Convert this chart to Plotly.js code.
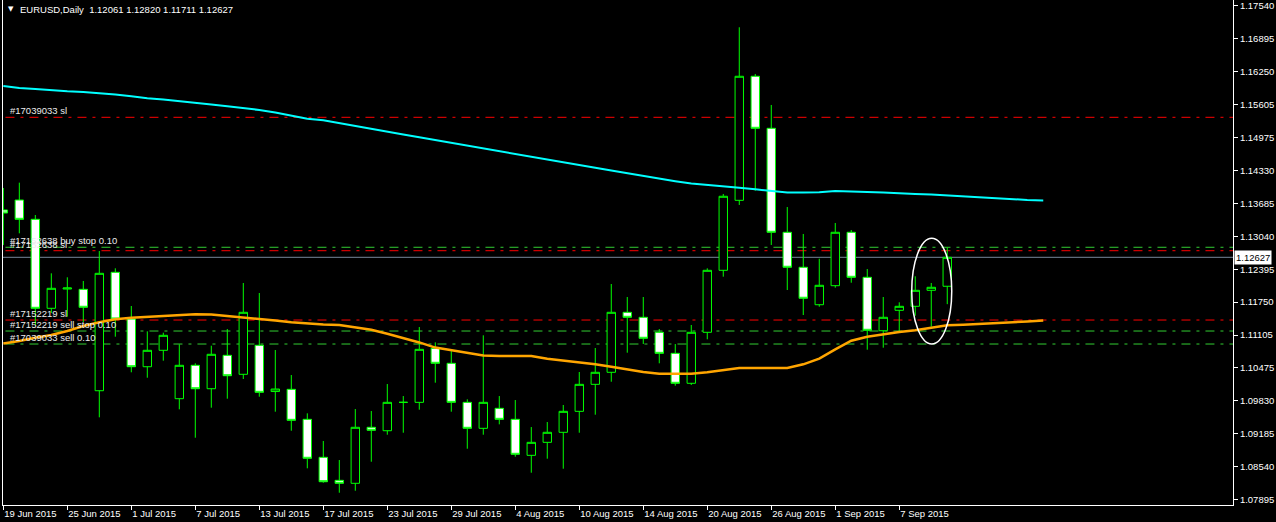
<!DOCTYPE html>
<html><head><meta charset="utf-8">
<script src="https://cdn.plot.ly/plotly-3.0.1.min.js"></script>
<style>html,body{margin:0;padding:0;background:#000;}#chart{width:1276px;height:522px;}</style>
</head><body><div id="chart"></div>
<script>
const symbol = "EURUSD,Daily";
const dates = ["19 Jun 2015","22 Jun 2015","23 Jun 2015","24 Jun 2015","25 Jun 2015","26 Jun 2015","29 Jun 2015","30 Jun 2015",
"1 Jul 2015","2 Jul 2015","3 Jul 2015","6 Jul 2015","7 Jul 2015","8 Jul 2015","9 Jul 2015","10 Jul 2015","13 Jul 2015","14 Jul 2015",
"15 Jul 2015","16 Jul 2015","17 Jul 2015","20 Jul 2015","21 Jul 2015","22 Jul 2015","23 Jul 2015","24 Jul 2015","27 Jul 2015","28 Jul 2015",
"29 Jul 2015","30 Jul 2015","31 Jul 2015","3 Aug 2015","4 Aug 2015","5 Aug 2015","6 Aug 2015","7 Aug 2015","10 Aug 2015","11 Aug 2015",
"12 Aug 2015","13 Aug 2015","14 Aug 2015","17 Aug 2015","18 Aug 2015","19 Aug 2015","20 Aug 2015","21 Aug 2015","24 Aug 2015","25 Aug 2015",
"26 Aug 2015","27 Aug 2015","28 Aug 2015","31 Aug 2015","1 Sep 2015","2 Sep 2015","3 Sep 2015","4 Sep 2015","7 Sep 2015","8 Sep 2015",
"9 Sep 2015","10 Sep 2015"];
const openP = [1.13552,1.13747,1.13370,1.11630,1.12007,1.12001,1.10019,1.12334,1.11421,1.10488,1.10809,1.09863,1.10516,1.10058,1.10711,1.10340,1.10907,1.10003,1.10046,1.09460,
1.08717,1.08267,1.08209,1.09304,1.09237,1.09792,1.09792,1.10848,1.10555,1.09792,1.09284,1.09675,1.09460,1.08756,1.09010,1.09206,1.09616,1.10144,1.10379,1.11552,
1.11454,1.11161,1.10750,1.10164,1.11161,1.12373,1.13741,1.16166,1.15149,1.13116,1.12432,1.11700,1.12072,1.13116,1.12236,1.11192,1.11591,1.11669,1.11982,1.12061];
const highP = [1.13982,1.14086,1.13454,1.12314,1.12236,1.12164,1.12750,1.12412,1.11675,1.11180,1.11153,1.10926,1.10555,1.10899,1.11225,1.12125,1.11929,1.10815,1.10326,1.09577,
1.09036,1.08664,1.09661,1.09622,1.10150,1.09915,1.11264,1.10965,1.10795,1.09851,1.11102,1.09915,1.09837,1.09309,1.09407,1.09740,1.10385,1.10854,1.12105,1.11851,
1.11851,1.11225,1.10932,1.11304,1.12412,1.13865,1.17124,1.16211,1.15605,1.13610,1.13083,1.12600,1.13298,1.13161,1.12398,1.11851,1.11747,1.12256,1.12125,1.12820];
const lowP = [1.12868,1.13096,1.11304,1.11538,1.11466,1.11362,1.09499,1.11075,1.10379,1.10273,1.10606,1.09655,1.09100,1.09687,1.09863,1.10248,1.09902,1.09609,1.09237,1.08502,
1.08220,1.08025,1.08064,1.08631,1.09159,1.09198,1.09648,1.10176,1.09609,1.08885,1.09159,1.09362,1.08729,1.08416,1.08690,1.08494,1.09198,1.09550,1.10195,1.10762,
1.10932,1.10555,1.10117,1.10131,1.11024,1.12248,1.13650,1.13929,1.12868,1.11988,1.11499,1.11661,1.12033,1.12130,1.10821,1.10860,1.11173,1.11485,1.11270,1.11711];
const closeP = [1.13493,1.13370,1.11630,1.12021,1.12027,1.11650,1.12314,1.11421,1.10488,1.10809,1.11102,1.10516,1.10058,1.10731,1.10312,1.11552,1.09988,1.10052,1.09440,1.08698,
1.08240,1.08209,1.09304,1.09245,1.09792,1.09792,1.10828,1.10555,1.09792,1.09284,1.09792,1.09460,1.08776,1.09010,1.09206,1.09616,1.10144,1.10379,1.11552,1.11454,
1.11044,1.10750,1.10164,1.11161,1.12373,1.13820,1.16166,1.15149,1.13116,1.12432,1.11826,1.12080,1.13116,1.12236,1.11200,1.11454,1.11669,1.11982,1.12041,1.12627];
// moving averages, drawn shifted 6 bars forward (66 points)
const maCyan = [1.15976,1.15937,1.15917,1.15888,1.15872,1.15859,1.15839,1.15810,1.15777,1.15736,1.15712,1.15683,1.15653,1.15614,1.15579,1.15546,1.15507,1.15458,1.15399,1.15337,
1.15305,1.15247,1.15192,1.15137,1.15083,1.15028,1.14973,1.14920,1.14866,1.14811,1.14756,1.14701,1.14647,1.14594,1.14539,1.14484,1.14432,1.14377,1.14322,1.14267,
1.14213,1.14166,1.14115,1.14070,1.14046,1.14015,1.13988,1.13956,1.13923,1.13894,1.13894,1.13898,1.13923,1.13919,1.13904,1.13894,1.13876,1.13865,1.13855,1.13835,
1.13816,1.13796,1.13777,1.13761,1.13747,1.13738];
const maOrange = [1.10942,1.10991,1.11055,1.11108,1.11186,1.11284,1.11358,1.11415,1.11444,1.11464,1.11479,1.11499,1.11515,1.11507,1.11479,1.11454,1.11433,1.11393,1.11358,1.11335,
1.11315,1.11304,1.11264,1.11210,1.11132,1.11049,1.10963,1.10862,1.10807,1.10752,1.10707,1.10697,1.10697,1.10696,1.10645,1.10613,1.10580,1.10537,1.10486,1.10430,
1.10385,1.10353,1.10351,1.10351,1.10379,1.10424,1.10461,1.10463,1.10463,1.10463,1.10535,1.10645,1.10827,1.10997,1.11075,1.11128,1.11167,1.11200,1.11255,1.11298,
1.11311,1.11323,1.11337,1.11354,1.11372,1.11392];
const tickLabels = ["19 Jun 2015","25 Jun 2015","1 Jul 2015","7 Jul 2015","13 Jul 2015","17 Jul 2015","23 Jul 2015","29 Jul 2015",
"4 Aug 2015","10 Aug 2015","14 Aug 2015","20 Aug 2015","26 Aug 2015","1 Sep 2015","7 Sep 2015"];
const priceTicks = [1.17540,1.16895,1.16250,1.15605,1.14975,1.14330,1.13685,1.13040,1.12395,1.11750,1.11105,1.10475,1.09830,1.09185,1.08540,1.07895];
const orderLevels = [1.15364,1.12823,1.12756,1.11401,1.11186,1.10932];
const orderLabels = ["#17039033 sl","#17152638 buy stop 0.10","#17152638 sl","#17152219 sl","#17152219 sell stop 0.10","#17039033 sell 0.10"];
const orderKinds = ["sl","entry","sl","sl","entry","entry"];

const xs = dates.map((d, i) => i);
const maX = maCyan.map((v, i) => i);
const last = closeP.length - 1;

const traces = [
  {type:'candlestick', x:xs, open:openP, high:highP, low:lowP, close:closeP,
   increasing:{line:{color:'#00ff00', width:1}, fillcolor:'#000000'},
   decreasing:{line:{color:'#00ff00', width:1}, fillcolor:'#ffffff'},
   whiskerwidth:0, hoverinfo:'skip', showlegend:false},
  {type:'scatter', mode:'lines', x:maX, y:maCyan, line:{color:'#00ffff', width:2}, hoverinfo:'skip', showlegend:false},
  {type:'scatter', mode:'lines', x:maX, y:maOrange, line:{color:'#ffa500', width:2.5}, hoverinfo:'skip', showlegend:false}
];

const dashPat = '9px,6px,3px,6px';
const shapes = orderLevels.map((lv, k) => ({
  type:'line', xref:'paper', x0:0.002, x1:1, yref:'y', y0:lv, y1:lv, layer:'below',
  line:{color: orderKinds[k] === 'sl' ? '#ff0000' : '#32cd32', width:1, dash:dashPat}
}));
shapes.push({type:'line', xref:'paper', x0:0, x1:1, yref:'y', y0:closeP[last], y1:closeP[last], layer:'below',
  line:{color:'#778899', width:1}});
shapes.push({type:'circle', xref:'x', yref:'y', x0:56.78, x1:59.28, y0:1.10932, y1:1.12999, layer:'above',
  line:{color:'#ffffff', width:1.5}});

const annotations = orderLevels.map((lv, k) => ({
  xref:'paper', x:0, xanchor:'left', xshift:5, yref:'y', y:lv, yanchor:'bottom', yshift:-1,
  text:orderLabels[k], showarrow:false, font:{family:'Liberation Sans, Arial, sans-serif', size:9.5, color:'#ececec'}
}));
const nb = '\u00a0';
annotations.push({xref:'paper', yref:'paper', x:0, y:1, xanchor:'left', yanchor:'top', xshift:3, yshift:-3,
  text:'\u25BC', showarrow:false, font:{family:'DejaVu Sans', size:7, color:'#ffffff'}});
annotations.push({xref:'paper', yref:'paper', x:0, y:1, xanchor:'left', yanchor:'top', xshift:15, yshift:-2,
  text: symbol + nb + nb + [openP[last], highP[last], lowP[last], closeP[last]].map(v => v.toFixed(5)).join(nb),
  showarrow:false, font:{family:'Liberation Sans, Arial, sans-serif', size:9.5, color:'#ffffff'}});
annotations.push({xref:'paper', yref:'y', x:1, y:closeP[last], xanchor:'left', yanchor:'middle', xshift:1,
  text:closeP[last].toFixed(5), showarrow:false, bgcolor:'#ffffff', borderpad:1,
  font:{family:'Liberation Sans, Arial, sans-serif', size:9.5, color:'#000000'}});

const layout = {
  width:1276, height:522,
  paper_bgcolor:'#000000', plot_bgcolor:'#000000',
  margin:{l:3, r:43, t:0, b:17, pad:0},
  showlegend:false, dragmode:false, boxgap:0.25,
  font:{family:'Liberation Sans, Arial, sans-serif', size:9.5, color:'#ffffff'},
  xaxis:{range:[-0.02, 76.86], tickmode:'array', tickvals:tickLabels.map(t => dates.indexOf(t)), ticktext:tickLabels,
    ticks:'outside', ticklen:4, tickcolor:'#ffffff', tickwidth:1, showgrid:false, zeroline:false,
    showline:true, linecolor:'#ffffff', linewidth:1, ticklabelposition:'outside right',
    tickfont:{family:'Liberation Sans, Arial, sans-serif', size:9.5, color:'#ffffff'},
    rangeslider:{visible:false}, fixedrange:true},
  yaxis:{side:'right', range:[1.07785, 1.17657], tickmode:'array', tickvals:priceTicks, ticktext:priceTicks.map(v => v.toFixed(5)),
    ticks:'outside', ticklen:4, tickcolor:'#ffffff', tickwidth:1, showgrid:false, zeroline:false,
    showline:true, mirror:true, linecolor:'#ffffff', linewidth:1,
    tickfont:{family:'Liberation Sans, Arial, sans-serif', size:9.5, color:'#ffffff'}, fixedrange:true},
  shapes:shapes, annotations:annotations
};

Plotly.newPlot('chart', traces, layout, {staticPlot:true, displayModeBar:false});
</script>
</body></html>
